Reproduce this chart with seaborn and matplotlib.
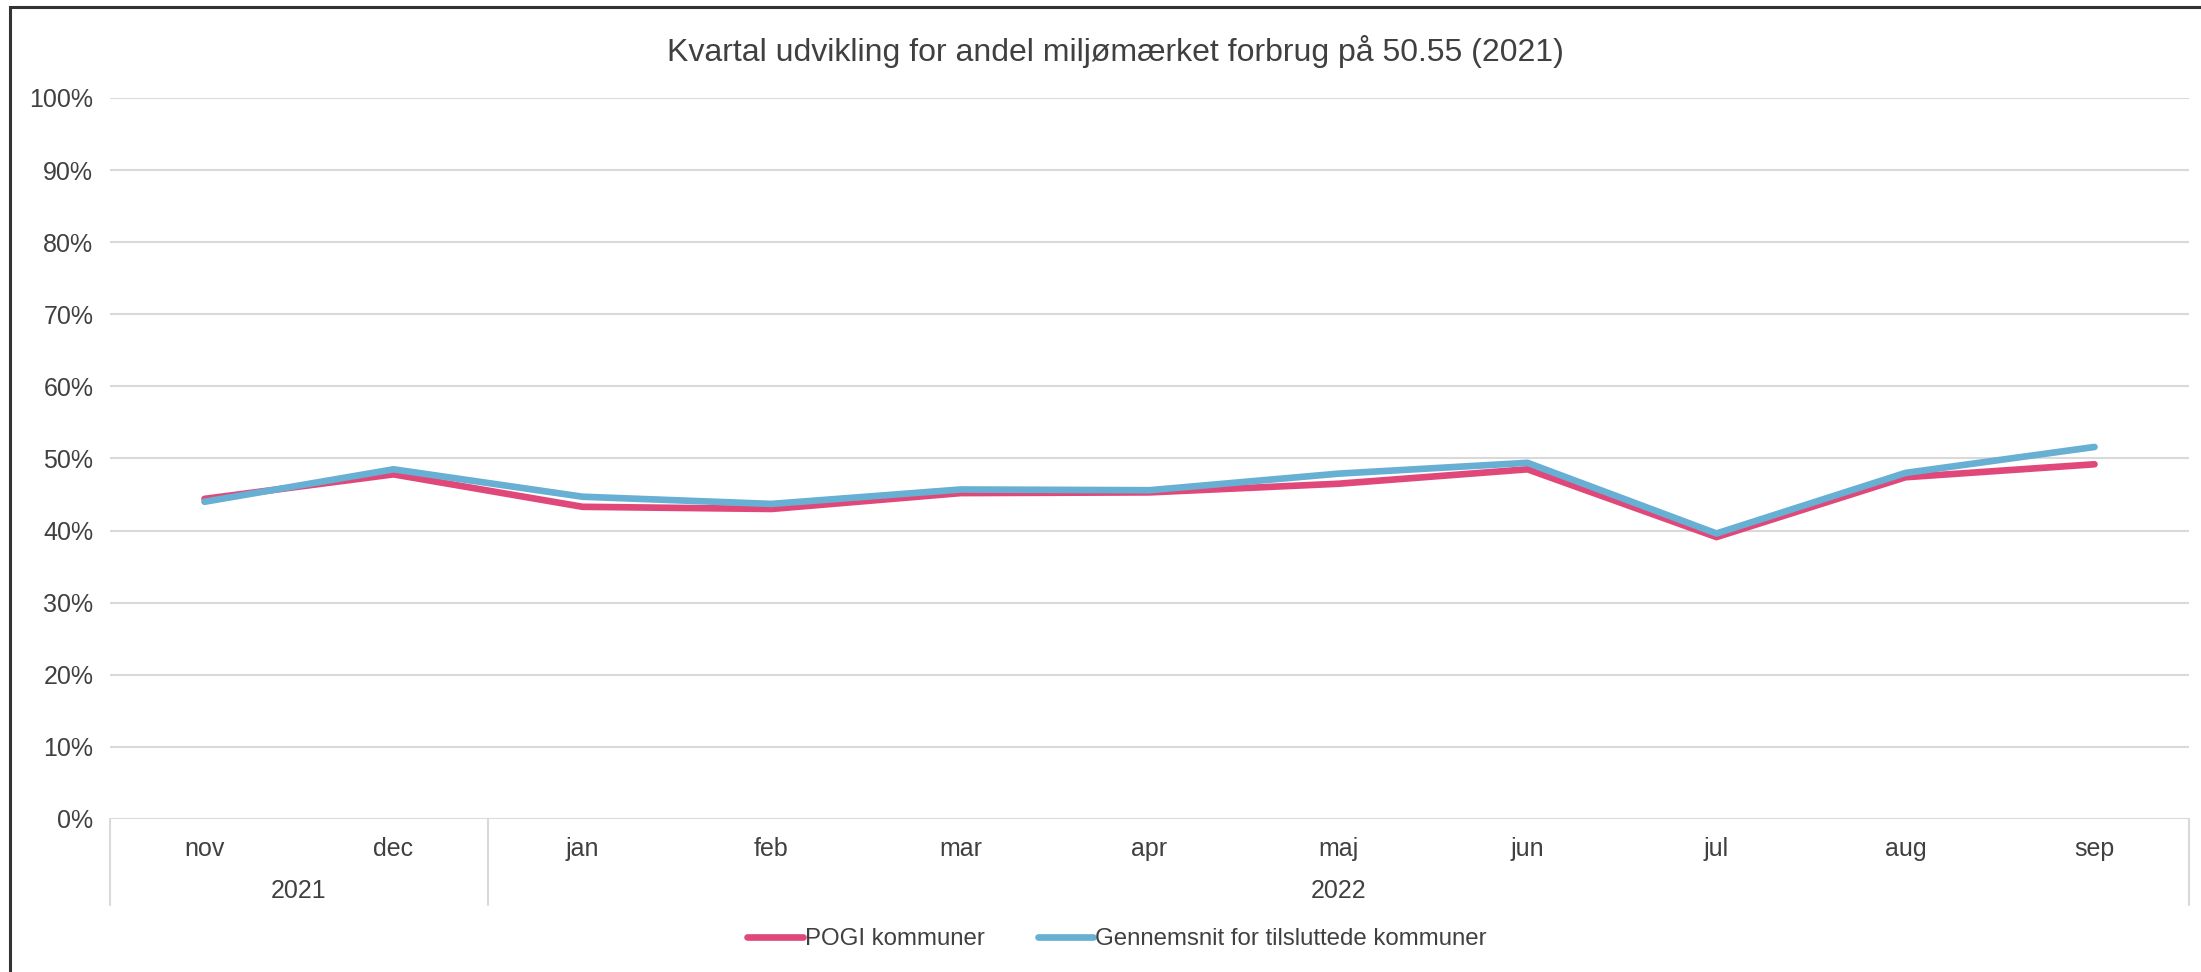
import pandas as pd
import matplotlib.pyplot as plt
import matplotlib.patches as mpatches
import seaborn as sns

# data
months = ['nov', 'dec', 'jan', 'feb', 'mar', 'apr', 'maj', 'jun', 'jul', 'aug', 'sep']
years = ['2021', '2022']
year_spans = [(0, 2), (2, 11)]
pogi = [44.4, 47.8, 43.3, 43.0, 45.2, 45.3, 46.5, 48.5, 39.1, 47.4, 49.2]
gennemsnit = [44.0, 48.5, 44.7, 43.7, 45.7, 45.6, 47.9, 49.4, 39.6, 48.0, 51.6]
series_names = ['POGI kommuner', 'Gennemsnit for tilsluttede kommuner']
colors = ['#E0487A', '#67AFD3']
title = 'Kvartal udvikling for andel miljømærket forbrug på 50.55 (2021)'


def plot_chart(out_file='out.png'):
    df = pd.DataFrame({
        'pos': list(range(len(months))) * 2,
        'value': [v / 100 for v in pogi + gennemsnit],
        'serie': [series_names[0]] * len(months) + [series_names[1]] * len(months),
    })

    sns.set_theme(style="white")
    plt.rcParams['font.family'] = ['Liberation Sans', 'DejaVu Sans']
    text_col = '#404040'

    fig = plt.figure(figsize=(22.01, 9.72), dpi=100)
    ax = fig.add_axes([110 / 2201, 1 - 819 / 972, (2189 - 110) / 2201, (819 - 98) / 972])

    sns.lineplot(data=df, x='pos', y='value', hue='serie', palette=colors,
                 linewidth=4.8, ax=ax, legend=False, solid_capstyle='round')

    ax.set_xlim(-0.5, len(months) - 0.5)
    ax.set_ylim(0, 1)
    ax.set_yticks([i / 10 for i in range(11)])
    ax.set_yticklabels([f'{i * 10}%' for i in range(11)], fontsize=18, color=text_col)
    ax.tick_params(axis='y', length=0, pad=12)
    ax.set_xticks([])
    ax.set_xlabel('')
    ax.set_ylabel('')
    ax.grid(axis='y', color='#D9D9D9', linewidth=1.5)
    ax.set_axisbelow(True)
    for s in ax.spines.values():
        s.set_visible(False)

    # category axis: months, then years with separators
    tr = ax.get_xaxis_transform()
    for i, m in enumerate(months):
        ax.text(i, -0.0415, m, transform=tr, ha='center', va='center',
                fontsize=18, color=text_col)
    for yr, (a, b) in zip(years, year_spans):
        ax.text((a + b - 1) / 2, -0.0998, yr, transform=tr, ha='center', va='center',
                fontsize=18, color=text_col)
    for edge in [-0.5] + [b - 0.5 for _, b in year_spans]:
        ax.plot([edge, edge], [0, -0.119], transform=tr, color='#D9D9D9',
                linewidth=1.5, clip_on=False)

    fig.text(0.507, 1 - 52 / 972, title, ha='center', va='center',
             fontsize=23, color=text_col)

    handles = [plt.Line2D([], [], color=c, linewidth=4.8, solid_capstyle='round')
               for c in colors]
    fig.legend(handles, series_names, loc='center', bbox_to_anchor=(0.5076, 1 - 939 / 972),
               ncol=2, frameon=False, fontsize=17.3, handlelength=2.3, handletextpad=0.1,
               columnspacing=2.2, labelcolor=text_col)

    # outer chart frame (cropped on the right and bottom in the reference)
    fig.patches.append(mpatches.Rectangle((10 / 2201, -0.1), 1.2, 1 - 7 / 972 + 0.1,
                                          transform=fig.transFigure, fill=False,
                                          edgecolor='#333333', linewidth=2.2))

    fig.savefig(out_file, dpi=100)


if __name__ == "__main__":
    plot_chart()
